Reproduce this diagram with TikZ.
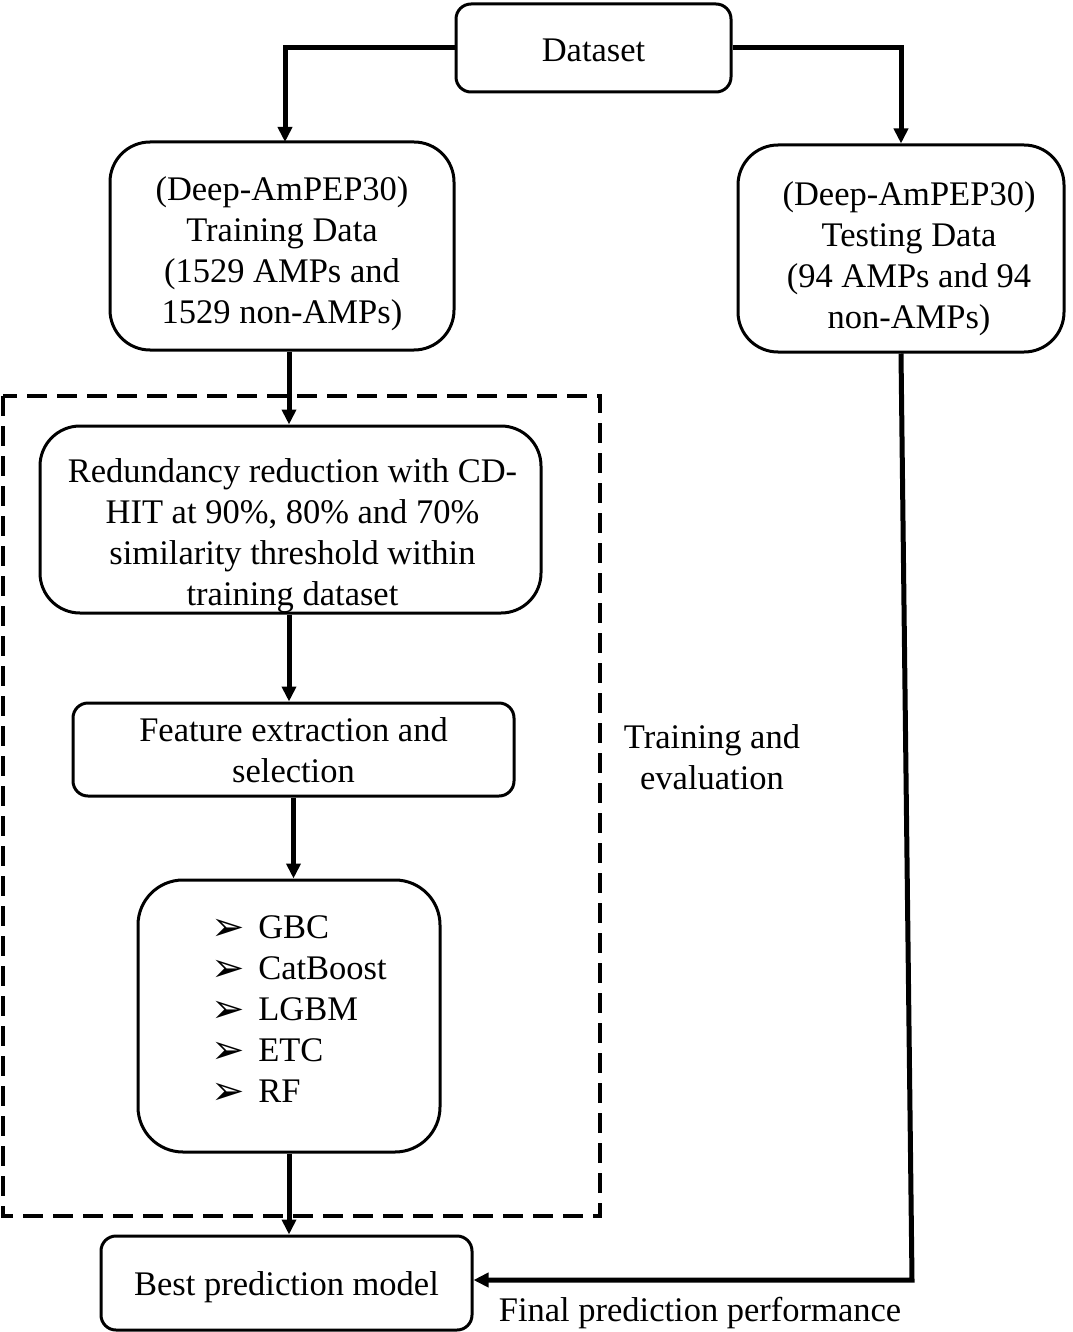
\documentclass[tikz,border=0pt]{standalone}
\usepackage{fontspec}
\setmainfont{Liberation Serif}
\newfontfamily\dejavu{DejaVu Sans}
\usetikzlibrary{arrows.meta,calc}
\newcommand{\bul}{\makebox[47pt][l]{\raisebox{-2pt}{\dejavu\fontsize{40}{41}\selectfont ➢}}}
\newcommand{\txt}[4][0pt]{\hspace*{#1}\raisebox{-#2}[\height][\depth]{\begin{tabular}{@{}#3@{}}#4\end{tabular}}}
\begin{document}
\begin{tikzpicture}[x=1pt,y=-1pt,
  box/.style={draw,line width=3pt,align=center,inner sep=0pt,font=\fontsize{34.5}{41}\selectfont},
  conn/.style={line width=5pt,-{Triangle[length=15pt,width=14pt]}},
  lbl/.style={align=center,font=\fontsize{34.5}{41}\selectfont}]
\useasboundingbox (0,0) rectangle (1072,1332);
\node[box,rounded corners=15pt,minimum width=275pt,minimum height=88pt] (ds) at (593.5,48) {\txt{5pt}{c}{Dataset}};
\node[box,rounded corners=40pt,minimum width=344pt,minimum height=208pt] (trn) at (282,246) {\txt{8pt}{c}{(Deep-AmPEP30)\\Training Data\\(1529 AMPs and\\1529 non-AMPs)}};
\node[box,rounded corners=40pt,minimum width=326pt,minimum height=207pt] (tst) at (901,248.5) {\txt[16pt]{10pt}{c}{(Deep-AmPEP30)\\Testing Data\\(94 AMPs and 94\\non-AMPs)}};
\draw[line width=4pt,dash pattern=on 20pt off 10pt] (3,396) rectangle (600,1216);
\node[box,rounded corners=40pt,minimum width=501pt,minimum height=187pt] (red) at (290.5,519.5) {\txt[4pt]{16pt}{c}{Redundancy reduction with CD-\\HIT at 90\%, 80\% and 70\%\\similarity threshold within\\training dataset}};
\node[box,rounded corners=15pt,minimum width=441pt,minimum height=93pt] (fea) at (293.5,749.5) {\txt{4pt}{c}{Feature extraction and\\selection}};
\node[box,rounded corners=45pt,minimum width=302pt,minimum height=272pt] (mdl) at (289,1016) {\txt[20pt]{-4pt}{l}{\bul GBC\\\bul CatBoost\\\bul LGBM\\\bul ETC\\\bul RF}};
\node[box,rounded corners=15pt,minimum width=371pt,minimum height=94pt] (best) at (286.5,1283) {\txt{4pt}{c}{Best prediction model}};
\node[lbl] (te) at (712,757) {Training and\\evaluation};
\coordinate (c) at (912,1280);
\node[lbl,anchor=north] (fpp) at (700,1294) {Final prediction performance};
\draw[conn] (ds.west) -| (285,142);
\draw[conn] (ds.east) -| (tst.north);
\draw[conn] (trn.south -| 289,0) -- (red.north -| 289,0);
\draw[conn] (red.south -| 289,0) -- (fea.north -| 289,0);
\draw[conn] (fea.south) -- (fea.south |- mdl.north);
\draw[conn] (mdl.south) -- (mdl.south |- best.north);
\draw[conn] (tst.south) -- (c) -- (c -| best.east);
\end{tikzpicture}
\end{document}
